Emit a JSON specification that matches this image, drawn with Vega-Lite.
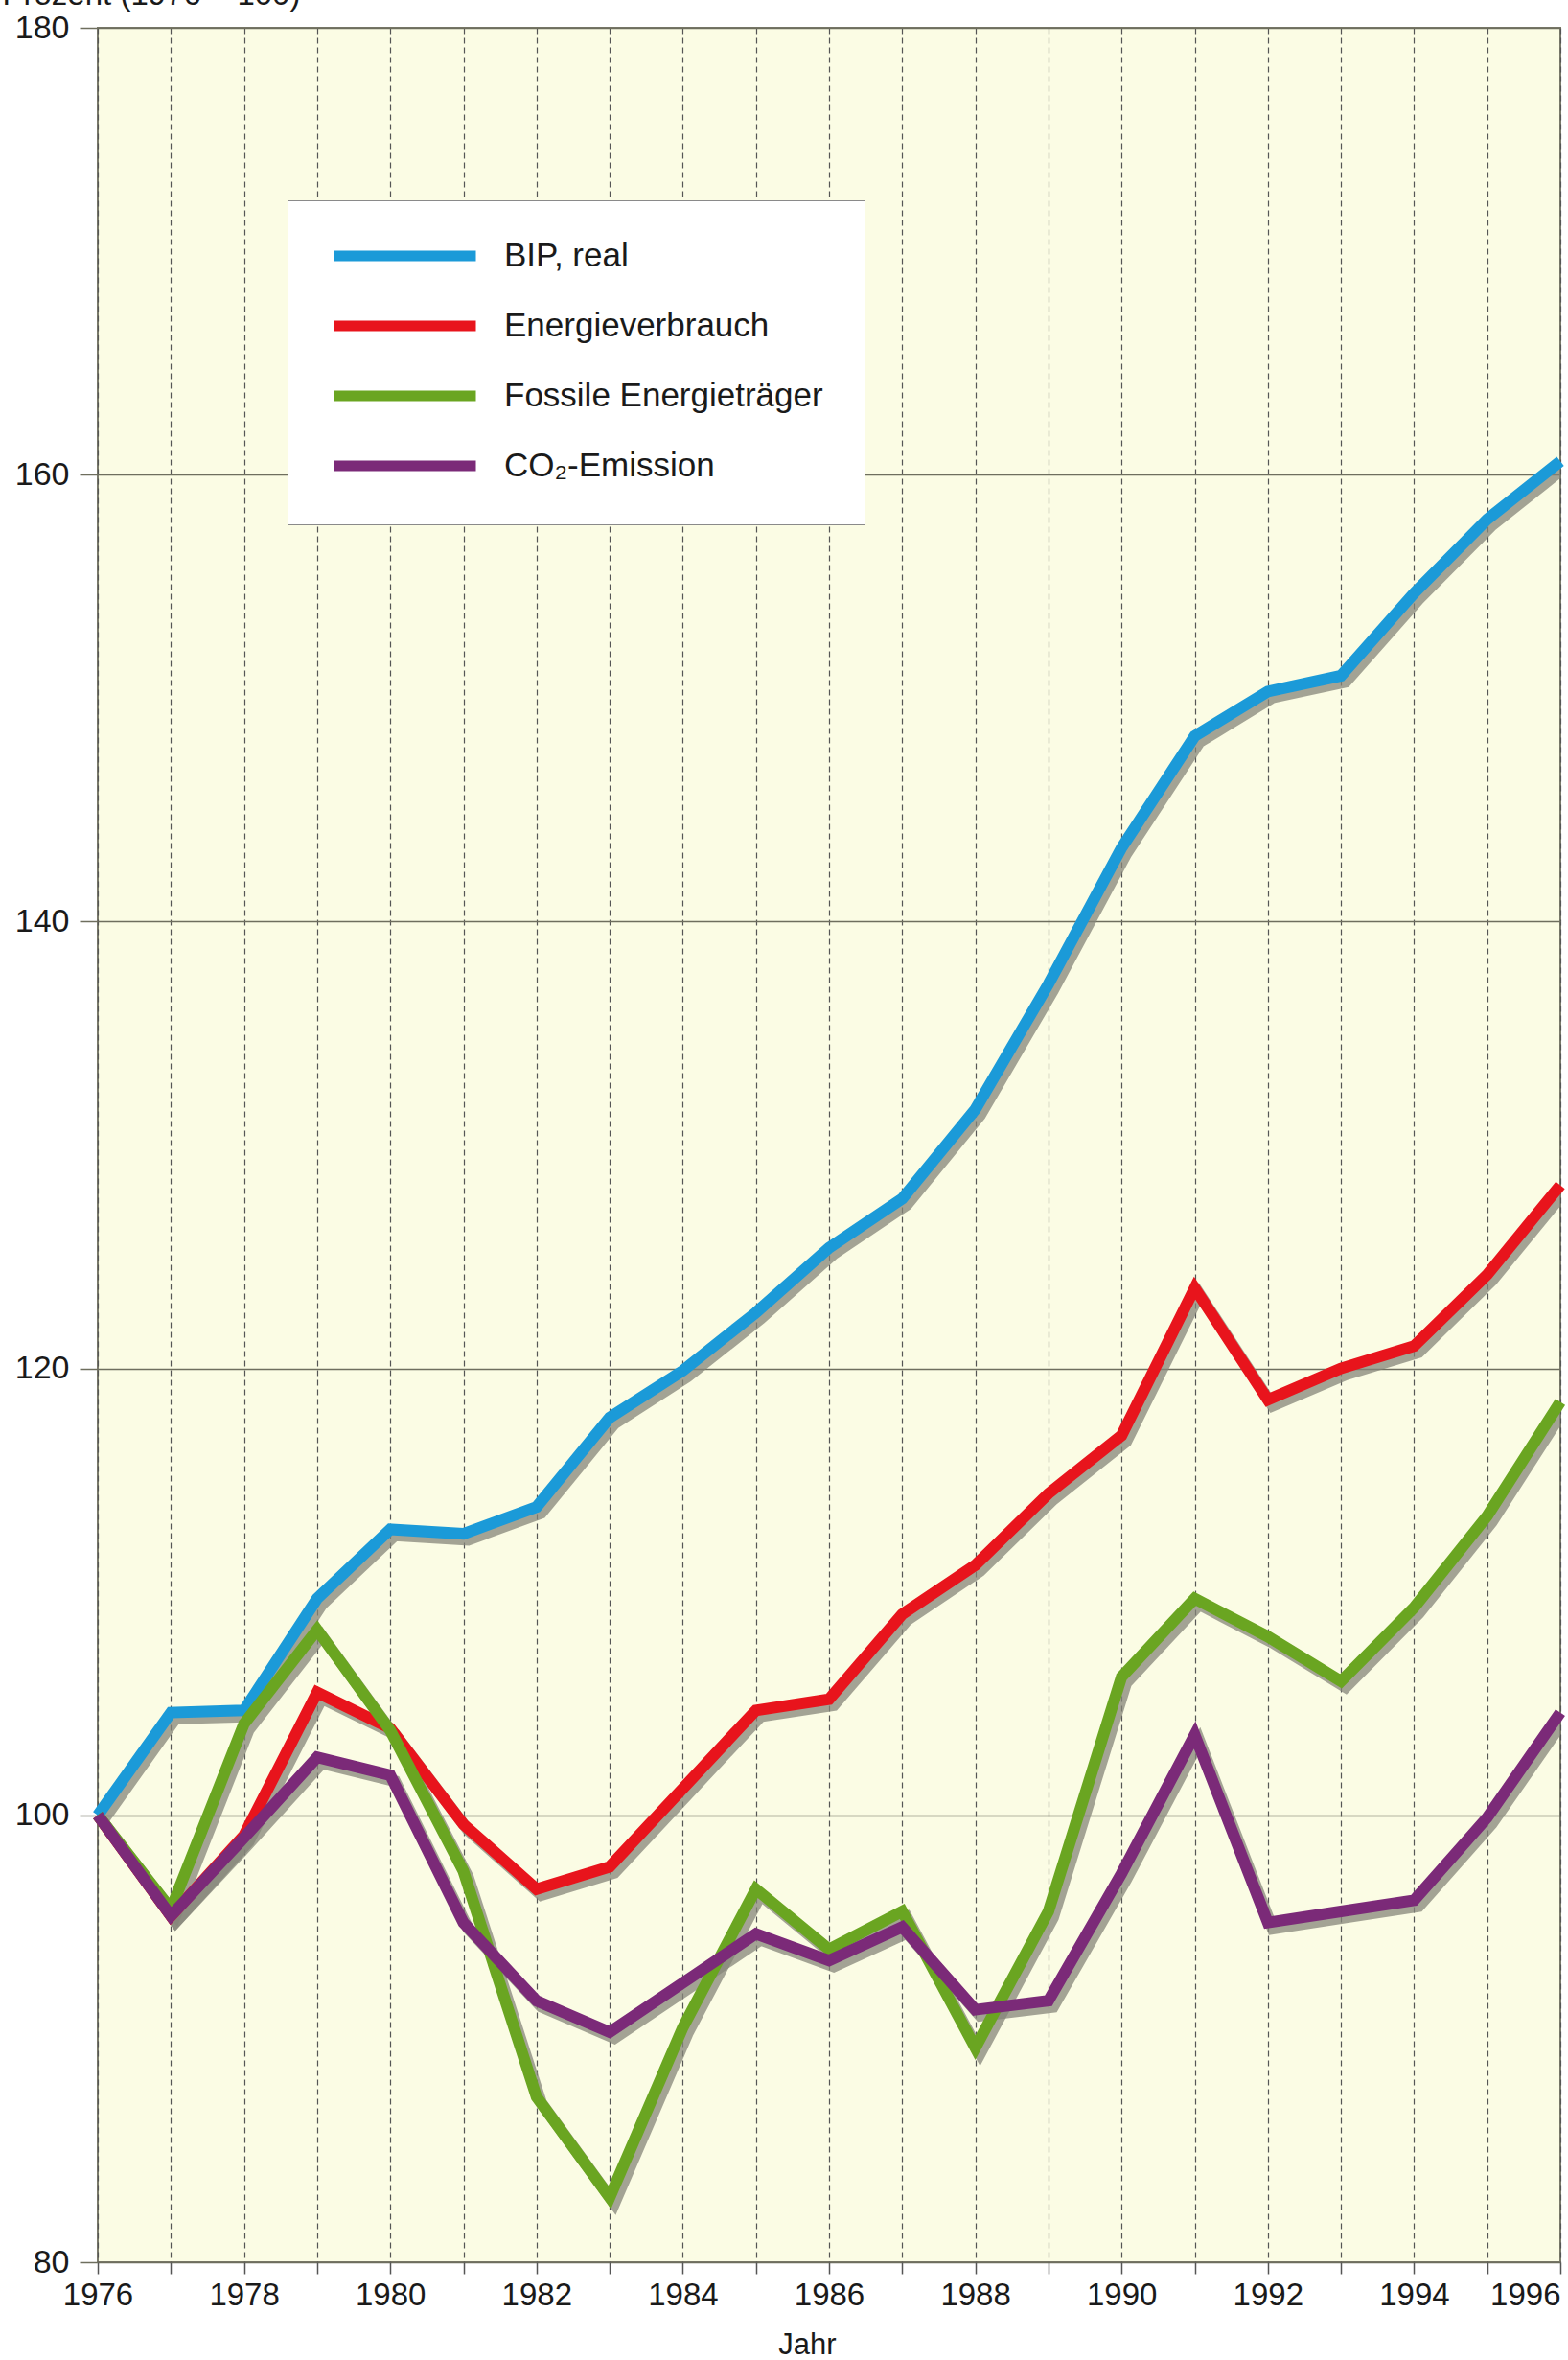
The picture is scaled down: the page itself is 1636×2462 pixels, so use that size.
{
  "$schema": "https://vega.github.io/schema/vega-lite/v6.json",
  "autosize": {"type": "none"},
  "padding": {"left": 102, "top": 29, "right": 8, "bottom": 102},
  "width": 1526,
  "height": 2331,
  "background": "#ffffff",
  "config": {
    "font": "Liberation Sans",
    "view": {"fill": "#fbfce4", "stroke": "#7a7a6a", "strokeWidth": 2}
  },
  "data": {
    "values": [
      {"Jahr": 1976, "Serie": "BIP, real", "Wert": 100},
      {"Jahr": 1977, "Serie": "BIP, real", "Wert": 104.6},
      {"Jahr": 1978, "Serie": "BIP, real", "Wert": 104.7},
      {"Jahr": 1979, "Serie": "BIP, real", "Wert": 109.7},
      {"Jahr": 1980, "Serie": "BIP, real", "Wert": 112.8},
      {"Jahr": 1981, "Serie": "BIP, real", "Wert": 112.6},
      {"Jahr": 1982, "Serie": "BIP, real", "Wert": 113.8},
      {"Jahr": 1983, "Serie": "BIP, real", "Wert": 117.8},
      {"Jahr": 1984, "Serie": "BIP, real", "Wert": 119.9},
      {"Jahr": 1985, "Serie": "BIP, real", "Wert": 122.5},
      {"Jahr": 1986, "Serie": "BIP, real", "Wert": 125.4},
      {"Jahr": 1987, "Serie": "BIP, real", "Wert": 127.6},
      {"Jahr": 1988, "Serie": "BIP, real", "Wert": 131.6},
      {"Jahr": 1989, "Serie": "BIP, real", "Wert": 137.2},
      {"Jahr": 1990, "Serie": "BIP, real", "Wert": 143.3},
      {"Jahr": 1991, "Serie": "BIP, real", "Wert": 148.3},
      {"Jahr": 1992, "Serie": "BIP, real", "Wert": 150.3},
      {"Jahr": 1993, "Serie": "BIP, real", "Wert": 151.0},
      {"Jahr": 1994, "Serie": "BIP, real", "Wert": 154.7},
      {"Jahr": 1995, "Serie": "BIP, real", "Wert": 158.0},
      {"Jahr": 1996, "Serie": "BIP, real", "Wert": 160.6},
      {"Jahr": 1976, "Serie": "Energieverbrauch", "Wert": 100},
      {"Jahr": 1977, "Serie": "Energieverbrauch", "Wert": 95.5},
      {"Jahr": 1978, "Serie": "Energieverbrauch", "Wert": 99.1},
      {"Jahr": 1979, "Serie": "Energieverbrauch", "Wert": 105.5},
      {"Jahr": 1980, "Serie": "Energieverbrauch", "Wert": 103.9},
      {"Jahr": 1981, "Serie": "Energieverbrauch", "Wert": 99.6},
      {"Jahr": 1982, "Serie": "Energieverbrauch", "Wert": 96.7},
      {"Jahr": 1983, "Serie": "Energieverbrauch", "Wert": 97.7},
      {"Jahr": 1984, "Serie": "Energieverbrauch", "Wert": 101.2},
      {"Jahr": 1985, "Serie": "Energieverbrauch", "Wert": 104.7},
      {"Jahr": 1986, "Serie": "Energieverbrauch", "Wert": 105.2},
      {"Jahr": 1987, "Serie": "Energieverbrauch", "Wert": 109.0},
      {"Jahr": 1988, "Serie": "Energieverbrauch", "Wert": 111.2},
      {"Jahr": 1989, "Serie": "Energieverbrauch", "Wert": 114.4},
      {"Jahr": 1990, "Serie": "Energieverbrauch", "Wert": 117.0},
      {"Jahr": 1991, "Serie": "Energieverbrauch", "Wert": 123.6},
      {"Jahr": 1992, "Serie": "Energieverbrauch", "Wert": 118.6},
      {"Jahr": 1993, "Serie": "Energieverbrauch", "Wert": 120.0},
      {"Jahr": 1994, "Serie": "Energieverbrauch", "Wert": 121.0},
      {"Jahr": 1995, "Serie": "Energieverbrauch", "Wert": 124.2},
      {"Jahr": 1996, "Serie": "Energieverbrauch", "Wert": 128.2},
      {"Jahr": 1976, "Serie": "Fossile Energieträger", "Wert": 100},
      {"Jahr": 1977, "Serie": "Fossile Energieträger", "Wert": 95.8},
      {"Jahr": 1978, "Serie": "Fossile Energieträger", "Wert": 104.1},
      {"Jahr": 1979, "Serie": "Fossile Energieträger", "Wert": 108.3},
      {"Jahr": 1980, "Serie": "Fossile Energieträger", "Wert": 103.8},
      {"Jahr": 1981, "Serie": "Fossile Energieträger", "Wert": 97.5},
      {"Jahr": 1982, "Serie": "Fossile Energieträger", "Wert": 87.4},
      {"Jahr": 1983, "Serie": "Fossile Energieträger", "Wert": 82.9},
      {"Jahr": 1984, "Serie": "Fossile Energieträger", "Wert": 90.5},
      {"Jahr": 1985, "Serie": "Fossile Energieträger", "Wert": 96.7},
      {"Jahr": 1986, "Serie": "Fossile Energieträger", "Wert": 94.0},
      {"Jahr": 1987, "Serie": "Fossile Energieträger", "Wert": 95.7},
      {"Jahr": 1988, "Serie": "Fossile Energieträger", "Wert": 89.6},
      {"Jahr": 1989, "Serie": "Fossile Energieträger", "Wert": 95.7},
      {"Jahr": 1990, "Serie": "Fossile Energieträger", "Wert": 106.2},
      {"Jahr": 1991, "Serie": "Fossile Energieträger", "Wert": 109.7},
      {"Jahr": 1992, "Serie": "Fossile Energieträger", "Wert": 108.0},
      {"Jahr": 1993, "Serie": "Fossile Energieträger", "Wert": 106.0},
      {"Jahr": 1994, "Serie": "Fossile Energieträger", "Wert": 109.3},
      {"Jahr": 1995, "Serie": "Fossile Energieträger", "Wert": 113.4},
      {"Jahr": 1996, "Serie": "Fossile Energieträger", "Wert": 118.5},
      {"Jahr": 1976, "Serie": "CO₂-Emission", "Wert": 100},
      {"Jahr": 1977, "Serie": "CO₂-Emission", "Wert": 95.5},
      {"Jahr": 1978, "Serie": "CO₂-Emission", "Wert": 99.0},
      {"Jahr": 1979, "Serie": "CO₂-Emission", "Wert": 102.6},
      {"Jahr": 1980, "Serie": "CO₂-Emission", "Wert": 101.8},
      {"Jahr": 1981, "Serie": "CO₂-Emission", "Wert": 95.2},
      {"Jahr": 1982, "Serie": "CO₂-Emission", "Wert": 91.7},
      {"Jahr": 1983, "Serie": "CO₂-Emission", "Wert": 90.3},
      {"Jahr": 1984, "Serie": "CO₂-Emission", "Wert": 92.5},
      {"Jahr": 1985, "Serie": "CO₂-Emission", "Wert": 94.7},
      {"Jahr": 1986, "Serie": "CO₂-Emission", "Wert": 93.5},
      {"Jahr": 1987, "Serie": "CO₂-Emission", "Wert": 95.0},
      {"Jahr": 1988, "Serie": "CO₂-Emission", "Wert": 91.3},
      {"Jahr": 1989, "Serie": "CO₂-Emission", "Wert": 91.7},
      {"Jahr": 1990, "Serie": "CO₂-Emission", "Wert": 97.4},
      {"Jahr": 1991, "Serie": "CO₂-Emission", "Wert": 103.6},
      {"Jahr": 1992, "Serie": "CO₂-Emission", "Wert": 95.2},
      {"Jahr": 1993, "Serie": "CO₂-Emission", "Wert": 95.7},
      {"Jahr": 1994, "Serie": "CO₂-Emission", "Wert": 96.2},
      {"Jahr": 1995, "Serie": "CO₂-Emission", "Wert": 99.9},
      {"Jahr": 1996, "Serie": "CO₂-Emission", "Wert": 104.6}
    ]
  },
  "layer": [
    {
      "mark": {"type": "line", "strokeWidth": 12, "strokeJoin": "miter", "strokeCap": "butt", "color": "#86867a", "opacity": 0.75, "clip": true},
      "encoding": {
        "detail": {"field": "Serie", "type": "nominal"},
        "x": {
          "field": "Jahr",
          "type": "quantitative",
          "scale": {"domain": [1975.935, 1995.935], "nice": false, "zero": false},
          "axis": null
        },
        "y": {
          "field": "Wert",
          "type": "quantitative",
          "scale": {"domain": [80.27, 180.27], "nice": false, "zero": false},
          "axis": null
        }
      }
    },
    {
      "mark": {"type": "line", "strokeWidth": 12, "strokeJoin": "miter", "strokeCap": "butt"},
      "encoding": {
        "x": {
          "field": "Jahr",
          "type": "quantitative",
          "scale": {"domain": [1976, 1996], "nice": false, "zero": false},
          "axis": {
            "values": [1976, 1977, 1978, 1979, 1980, 1981, 1982, 1983, 1984, 1985, 1986, 1987, 1988, 1989, 1990, 1991, 1992, 1993, 1994, 1995, 1996],
            "labelExpr": "datum.value % 2 == 0 ? datum.value : ''",
            "format": "d",
            "labelAlign": {"condition": {"test": "datum.value == 1996", "value": "right"}, "value": "center"},
            "labelFontSize": 33,
            "labelColor": "#1a1a1a",
            "labelPadding": 6,
            "labelOverlap": false,
            "labelFlush": false,
            "domain": false,
            "ticks": true,
            "tickSize": 12,
            "tickColor": "#555555",
            "tickWidth": 1.5,
            "grid": true,
            "gridDash": [6, 4],
            "gridColor": "#555555",
            "gridWidth": 1.2,
            "gridOpacity": 1,
            "title": "Jahr",
            "titleFontSize": 31,
            "titleFontWeight": "normal",
            "titleColor": "#1a1a1a",
            "titleX": 740,
            "titleY": 86,
            "titleBaseline": "middle",
            "titleAlign": "center"
          }
        },
        "y": {
          "field": "Wert",
          "type": "quantitative",
          "scale": {"domain": [80, 180], "nice": false, "zero": false},
          "axis": {
            "values": [80, 100, 120, 140, 160, 180],
            "labelFontSize": 34,
            "labelColor": "#1a1a1a",
            "labelAlign": "right",
            "labelPadding": 11,
            "ticks": true,
            "tickSize": 19,
            "tickColor": "#6e6e5e",
            "tickWidth": 1.5,
            "domain": false,
            "grid": true,
            "gridColor": "#6e6e5e",
            "gridWidth": 1.5,
            "gridOpacity": 1,
            "title": "Prozent (1976 = 100)",
            "titleAngle": 0,
            "titleFontSize": 33,
            "titleFontWeight": "normal",
            "titleColor": "#1a1a1a",
            "titleAlign": "left",
            "titleBaseline": "alphabetic",
            "titleX": -100,
            "titleY": -25
          }
        },
        "color": {
          "field": "Serie",
          "type": "nominal",
          "sort": ["BIP, real", "Energieverbrauch", "Fossile Energieträger", "CO₂-Emission"],
          "scale": {
            "domain": ["BIP, real", "Energieverbrauch", "Fossile Energieträger", "CO₂-Emission"],
            "range": ["#1b9ad8", "#e8141c", "#6aa521", "#7b2a78"]
          },
          "legend": {
            "orient": "none",
            "legendX": 198,
            "legendY": 180,
            "title": null,
            "symbolType": "stroke",
            "symbolSize": 21904,
            "symbolStrokeWidth": 11,
            "clipHeight": 30,
            "labelFontSize": 35,
            "labelColor": "#1a1a1a",
            "labelOffset": 24,
            "labelLimit": 600,
            "rowPadding": 38,
            "padding": 43,
            "fillColor": "#ffffff",
            "strokeColor": "#8a8a8a",
            "direction": "vertical"
          }
        }
      }
    }
  ],
  "resolve": {"scale": {"x": "independent", "y": "independent"}}
}
